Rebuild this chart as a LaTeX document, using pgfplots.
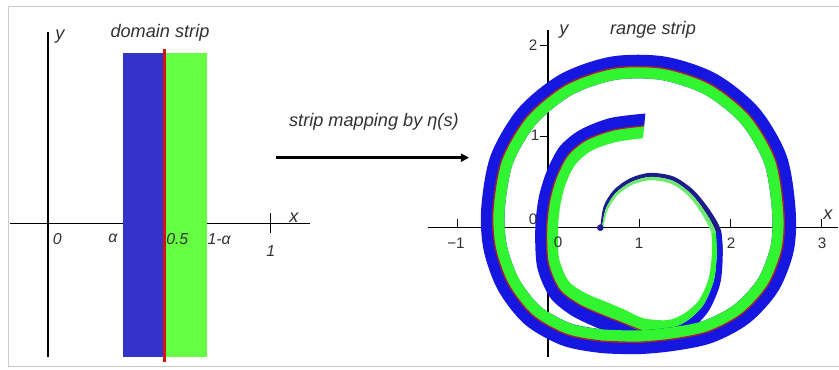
\documentclass[border=0pt]{standalone}
\usepackage{fontspec}
\setmainfont{Liberation Sans}
\usepackage{pgfplots}
\pgfplotsset{compat=1.18}
\usepgfplotslibrary{fillbetween}
\usetikzlibrary{arrows.meta}

\definecolor{stripblue}{RGB}{51,51,204}
\definecolor{stripgreen}{RGB}{102,255,68}
\definecolor{stripred}{RGB}{210,20,20}
\definecolor{bandblue}{RGB}{22,22,225}
\definecolor{bandgreen}{RGB}{50,245,50}
\definecolor{bandred}{RGB}{170,30,50}
\definecolor{navy}{RGB}{28,28,140}
\definecolor{palegreen}{RGB}{110,235,110}
\definecolor{framegray}{RGB}{205,205,205}
\definecolor{txt}{RGB}{50,50,50}

\begin{document}
\begin{tikzpicture}[x=0.03cm,y=0.03cm]
\path (0,0) rectangle (839,370);
\draw[framegray, line width=0.8pt] (839,364) -- (8,364) -- (8,3.5) -- (839,3.5);

% ---------------- domain strip
\begin{axis}[
  at={(0.30cm,0.39cm)}, anchor=south west,
  scale only axis, width=9cm, height=9.75cm,
  xmin=-0.172, xmax=1.177, ymin=-0.601, ymax=0.860,
  enlargelimits=false, clip=false,
  axis lines=middle, axis line style={-, line width=1.3pt},
  xtick=\empty, ytick=\empty,
]
\addplot[fill=stripblue, draw=none] coordinates {(0.337,-0.601) (0.522,-0.601) (0.522,0.766) (0.337,0.766)};
\addplot[fill=stripgreen, draw=none] coordinates {(0.522,-0.601) (0.712,-0.601) (0.712,0.766) (0.522,0.766)};
\addplot[stripred, line width=2.2pt] coordinates {(0.522,-0.624) (0.522,0.784)};
\draw[line width=1.1pt] (axis cs:1,-0.045) -- (axis cs:1,0.046);
\begin{scope}[every node/.style={font=\fontsize{13.5}{16}\selectfont\itshape, text=txt}]
\node at (axis cs:0.041,-0.071) {0};
\node at (axis cs:0.291,-0.066) {α};
\node at (axis cs:0.580,-0.071) {0.5};
\node at (axis cs:0.768,-0.071) {1-α};
\node at (axis cs:1.001,-0.125) {1};
\end{scope}
\end{axis}

% ---------------- range strip
\begin{axis}[
  at={(12.84cm,0.39cm)}, anchor=south west,
  scale only axis, width=12.3cm, height=9.81cm,
  xmin=-1.3187, xmax=3.1868, ymin=-1.416, ymax=2.165,
  enlargelimits=false,
  axis lines=middle, axis line style={-, line width=1.0pt},
  xtick=\empty, ytick=\empty,
]
% ticks and tick labels, under the bands
\draw[line width=0.8pt] (axis cs:-1,0) -- (axis cs:-1,0.1);
\draw[line width=0.8pt] (axis cs:1,0) -- (axis cs:1,0.1);
\draw[line width=0.8pt] (axis cs:2,0) -- (axis cs:2,0.1);
\draw[line width=0.8pt] (axis cs:3,0) -- (axis cs:3,0.1);
\draw[line width=0.8pt] (axis cs:0,1) -- (axis cs:-0.09,1);
\draw[line width=0.8pt] (axis cs:0,2) -- (axis cs:-0.09,2);
\draw[line width=0.8pt] (axis cs:0,-1) -- (axis cs:-0.09,-1);
\begin{scope}[every node/.style={font=\fontsize{13}{15}\selectfont, text=txt}]
\node at (axis cs:-1.011,-0.168) {−1};
\node at (axis cs:0.110,-0.157) {0};
\node at (axis cs:1.0,-0.168) {1};
\node at (axis cs:2.011,-0.168) {2};
\node at (axis cs:3.011,-0.168) {3};
\node at (axis cs:-0.165,2.001) {2};
\node at (axis cs:-0.143,1.015) {1};
\node at (axis cs:-0.165,0.095) {0};
\node at (axis cs:-0.22,-0.978) {−1};
\end{scope}

% spiral, part 1: thin first loop (outer edge, sigma = 1/2 line, inner edge)
\addplot[name path=so1, draw=none, smooth] coordinates {(0.575,0.0) (0.61,0.23) (0.72,0.41) (0.90,0.54) (1.12,0.60) (1.38,0.56) (1.60,0.41) (1.78,0.19) (1.90,-0.03) (1.92,-0.30)};
\addplot[name path=sm1, draw=none, smooth] coordinates {(0.590,-0.007) (0.635,0.208) (0.742,0.379) (0.915,0.501) (1.125,0.556) (1.371,0.514) (1.577,0.366) (1.739,0.154) (1.844,-0.052) (1.854,-0.30)};
\addplot[name path=si1, draw=none, smooth] coordinates {(0.602,-0.013) (0.655,0.191) (0.760,0.353) (0.927,0.470) (1.129,0.520) (1.364,0.476) (1.558,0.331) (1.705,0.124) (1.798,-0.071) (1.80,-0.30)};
\addplot[navy] fill between[of=so1 and sm1];
\addplot[palegreen] fill between[of=sm1 and si1];

% spiral, part 2: widening band up to the cut end
\addplot[name path=so2, draw=none, smooth] coordinates {(1.90,-0.03) (1.92,-0.30) (1.89,-0.62) (1.76,-0.92) (1.56,-1.12) (1.34,-1.23) (1.08,-1.29) (0.79,-1.19) (0.50,-1.08) (0.24,-0.95) (0.02,-0.76) (-0.12,-0.43) (-0.14,0.0) (-0.10,0.34) (-0.01,0.63) (0.13,0.89) (0.35,1.07) (0.68,1.20) (1.07,1.25)};
\addplot[name path=sm2, draw=none, smooth] coordinates {(1.844,-0.052) (1.854,-0.30) (1.820,-0.587) (1.702,-0.854) (1.520,-1.024) (1.325,-1.110) (1.065,-1.141) (0.810,-1.041) (0.557,-0.941) (0.327,-0.834) (0.124,-0.675) (0.001,-0.382) (-0.015,0) (0.019,0.302) (0.095,0.561) (0.218,0.794) (0.414,0.957) (0.710,1.068) (1.057,1.116)};
\addplot[name path=si2, draw=none, smooth] coordinates {(1.798,-0.071) (1.80,-0.30) (1.764,-0.560) (1.655,-0.799) (1.487,-0.945) (1.312,-1.012) (1.050,-0.992) (0.830,-0.893) (0.614,-0.802) (0.414,-0.718) (0.229,-0.589) (0.121,-0.333) (0.11,0) (0.138,0.263) (0.199,0.493) (0.306,0.699) (0.477,0.843) (0.739,0.936) (1.044,0.981)};
\addplot[bandblue] fill between[of=so2 and sm2];
\addplot[bandgreen] fill between[of=sm2 and si2];
\addplot[smooth, bandred, line width=1.1pt] coordinates {(1.065,-1.141) (0.810,-1.041) (0.557,-0.941) (0.327,-0.834) (0.124,-0.675) (0.001,-0.382) (-0.015,0) (0.019,0.302) (0.095,0.561) (0.218,0.794) (0.414,0.957) (0.710,1.068) (1.057,1.116)};

% outer loop: band centre line and the middle of its green half
\addplot[smooth, bandblue, line width=20.2pt] coordinates {(0.99,-1.255) (0.603,-1.244) (0.200,-1.168) (-0.170,-0.960) (-0.435,-0.623) (-0.580,-0.221) (-0.605,0.200) (-0.509,0.745) (-0.228,1.222) (0.200,1.568) (0.717,1.746) (1.263,1.746) (1.783,1.573) (2.216,1.228) (2.498,0.749) (2.590,0.200) (2.574,-0.224) (2.419,-0.625) (2.132,-0.942) (1.763,-1.138) (1.370,-1.220) (0.99,-1.255) (0.603,-1.244)};
\addplot[smooth, bandgreen, line width=10.1pt] coordinates {(0.99,-1.19) (0.620,-1.181) (0.232,-1.112) (-0.124,-0.914) (-0.378,-0.590) (-0.517,-0.204) (-0.540,0.200) (-0.448,0.723) (-0.178,1.180) (0.232,1.512) (0.729,1.682) (1.251,1.682) (1.750,1.516) (2.166,1.187) (2.437,0.727) (2.525,0.200) (2.511,-0.208) (2.363,-0.593) (2.086,-0.896) (1.730,-1.082) (1.354,-1.157) (0.99,-1.19) (0.620,-1.181)};
\addplot[smooth, bandred, line width=1.2pt] coordinates {(0.99,-1.255) (0.603,-1.244) (0.200,-1.168) (-0.170,-0.960) (-0.435,-0.623) (-0.580,-0.221) (-0.605,0.200) (-0.509,0.745) (-0.228,1.222) (0.200,1.568) (0.717,1.746) (1.263,1.746) (1.783,1.573) (2.216,1.228) (2.498,0.749) (2.590,0.200) (2.574,-0.224) (2.419,-0.625) (2.132,-0.942) (1.763,-1.138) (1.370,-1.220) (0.99,-1.255) (0.603,-1.244)};

% start point eta(1/2)
\addplot[only marks, mark=*, mark size=2.6pt, navy] coordinates {(0.575,0.0)};
\end{axis}

% titles, axis letters and the arrow
\begin{scope}[every node/.style={font=\fontsize{15.5}{18}\selectfont\itshape, text=txt}]
\node[anchor=base] at (160,332) {domain strip};
\node[anchor=base] at (653,335) {range strip};
\node[anchor=base west] at (285,243.3) {strip mapping by η(s)};
\node at (60,333) {y};
\node at (294,152) {x};
\node at (564,338) {y};
\node at (828,155) {x};
\end{scope}
\draw[line width=2.2pt, -{Triangle[length=7pt,width=7pt]}] (276,212.3) -- (469,212.3);
\pgfresetboundingbox
\path (0,0) rectangle (839,370);
\end{tikzpicture}
\end{document}
